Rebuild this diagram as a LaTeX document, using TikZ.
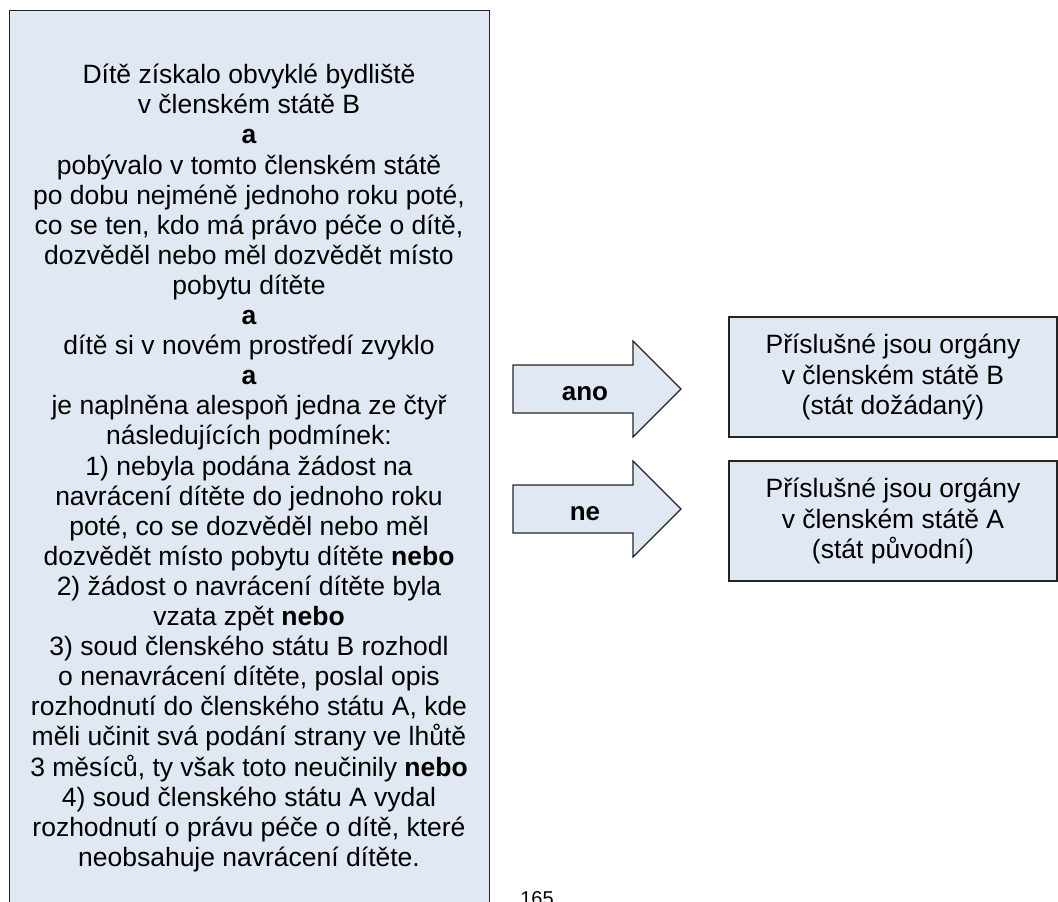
\documentclass[tikz,border=0pt]{standalone}
\usepackage{fontspec}
\setmainfont{Liberation Sans}
\definecolor{boxfill}{RGB}{224,232,243}
\definecolor{boxline}{RGB}{35,35,35}
\begin{document}
\begin{tikzpicture}[x=1pt,y=-1pt,
  box/.style={draw=boxline, fill=boxfill, line width=1.2pt},
  txt/.style={font=\fontsize{26.5}{30.1}\selectfont, align=center, inner sep=0pt},
  blockarrow/.style={draw=boxline, fill=boxfill, line width=1.2pt, line join=miter},
  arrlabel/.style={font=\fontsize{26}{30}\selectfont\bfseries, anchor=base, inner sep=0pt}]
\useasboundingbox (0,0) rectangle (1058,902);
\begin{scope}
\clip (0,0) rectangle (1058,902);
\node[box, minimum width=480pt, minimum height=930pt, anchor=north west, inner sep=0pt] (cond) at (9,10) {};
\end{scope}
\node[txt, anchor=north] (condtext) at (249,57) {\rule{0pt}{26.5pt}Dítě získalo obvyklé bydliště\\
v členském státě B\\
\textbf{a}\\
pobývalo v tomto členském státě\\
po dobu nejméně jednoho roku poté,\\
co se ten, kdo má právo péče o dítě,\\
dozvěděl nebo měl dozvědět místo\\
pobytu dítěte\\
\textbf{a}\\
dítě si v novém prostředí zvyklo\\
\textbf{a}\\
je naplněna alespoň jedna ze čtyř\\
následujících podmínek:\\
1) nebyla podána žádost na\\
navrácení dítěte do jednoho roku\\
poté, co se dozvěděl nebo měl\\
dozvědět místo pobytu dítěte \textbf{nebo}\\
2) žádost o navrácení dítěte byla\\
vzata zpět \textbf{nebo}\\
3) soud členského státu B rozhodl\\
o nenavrácení dítěte, poslal opis\\
rozhodnutí do členského státu A, kde\\
měli učinit svá podání strany ve lhůtě\\
3 měsíců, ty však toto neučinily \textbf{nebo}\\
4) soud členského státu A vydal\\
rozhodnutí o právu péče o dítě, které\\
neobsahuje navrácení dítěte.};
% result boxes
\node[box, txt, minimum width=328pt, minimum height=120pt] (yesbox) at (893,377) {Příslušné jsou orgány\\ v členském státě B\\ (stát dožádaný)};
\node[box, txt, minimum width=328pt, minimum height=120pt] (nobox) at (893,521) {Příslušné jsou orgány\\ v členském státě A\\ (stát původní)};
% block arrows
\draw[blockarrow] (513,365) -- (633,365) -- (633,341) -- (681,389) -- (633,437) -- (633,413) -- (513,413) -- cycle;
\node[arrlabel] (ano) at (585,400) {ano};
\draw[blockarrow] (513,485) -- (633,485) -- (633,461) -- (681,509) -- (633,557) -- (633,533) -- (513,533) -- cycle;
\node[arrlabel] (ne) at (585,520) {ne};
% page number
\node[font=\fontsize{20}{24}\selectfont, anchor=north, inner sep=0pt] (page) at (537,891) {165};
\end{tikzpicture}
\end{document}
